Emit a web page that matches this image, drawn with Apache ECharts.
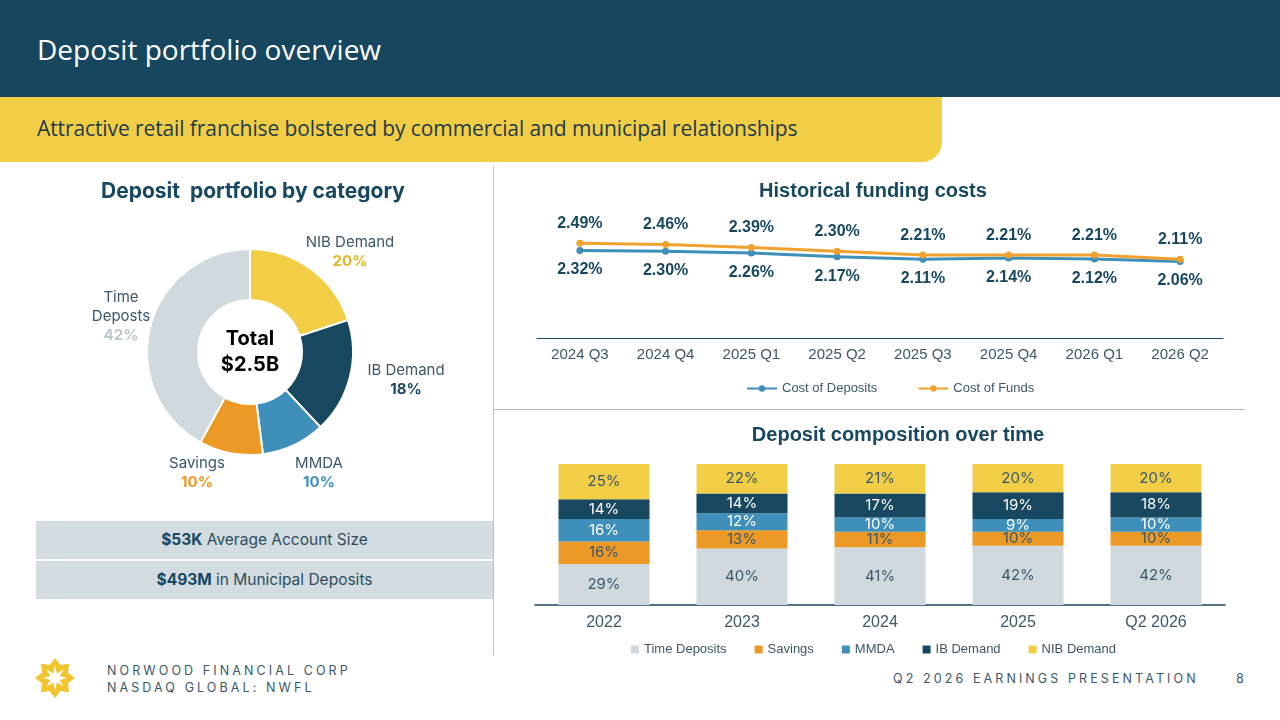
<!DOCTYPE html>
<html>
<head>
<meta charset="utf-8">
<title>Deposit portfolio overview</title>
<script src="https://cdn.jsdelivr.net/npm/echarts@6/dist/echarts.min.js"></script>
<style>
	html,body{margin:0;padding:0;background:#fff;}
	#slide{position:relative;width:1280px;height:720px;overflow:hidden;font-family:'Inter','Noto Sans',sans-serif;}
	.hdr{position:absolute;left:0;top:0;width:1280px;height:97px;background:#16475F;}
	.hdr span{position:absolute;left:37px;top:30px;color:#fff;font-family:'Open Sans',sans-serif;font-size:28px;letter-spacing:0;}
	.band{position:absolute;left:0;top:97px;width:942px;height:65px;background:#F2CE46;border-bottom-right-radius:20px;}
	.band span{position:absolute;left:37px;top:17px;color:#1F3A48;font-family:'Open Sans',sans-serif;font-size:21px;letter-spacing:-0.1px;}
	.vline{position:absolute;left:493px;top:166px;width:1px;height:489px;background:#A9C4D4;}
	.hline{position:absolute;left:493px;top:409px;width:752px;height:1px;background:#A9C4D4;}
	.stat{position:absolute;left:36px;width:457px;height:38px;line-height:38px;background:#D3DCE0;text-align:center;color:#2E4D5C;font-size:15.5px;}
	.stat b{color:#174860;}
	.foot{position:absolute;color:#3C5868;font-size:12.5px;letter-spacing:3.1px;}
	#logo{position:absolute;left:34px;top:657px;}
	#chart{position:absolute;left:0;top:0;width:1280px;height:720px;}
</style>
</head>
<body>
<div id="slide">
	<div class="hdr"><span>Deposit portfolio overview</span></div>
	<div class="band"><span>Attractive retail franchise bolstered by commercial and municipal relationships</span></div>
	<div class="vline"></div>
	<div class="hline"></div>
	<div class="stat" style="top:521px;"><b>$53K</b> Average Account Size</div>
	<div class="stat" style="top:561px;"><b>$493M</b> in Municipal Deposits</div>
	<svg id="logo" width="42" height="42" viewBox="-21 -21 42 42">
		<polygon id="starOut" fill="#F2C52E"></polygon>
		<polygon id="starIn" fill="#fff"></polygon>
	</svg>
	<div class="foot" style="left:107px;top:663px;">NORWOOD FINANCIAL CORP</div>
	<div class="foot" style="left:107px;top:680px;">NASDAQ GLOBAL: NWFL</div>
	<div class="foot" style="left:893px;top:671px;">Q2 2026 EARNINGS PRESENTATION</div>
	<div class="foot" style="left:1236px;top:671px;">8</div>
	<div id="chart"></div>
</div>
<script type="text/javascript">
	// 饼图 - 存款结构
	var pieNames = ['NIB Demand', 'IB Demand', 'MMDA', 'Savings', 'Time Deposits'];
	var pieLabels = [['NIB Demand'], ['IB Demand'], ['MMDA'], ['Savings'], ['Time', 'Deposts']];
	var pieValues = [20, 18, 10, 10, 42];

	// 折线图 - 资金成本
	var quarters = ['2024 Q3', '2024 Q4', '2025 Q1', '2025 Q2', '2025 Q3', '2025 Q4', '2026 Q1', '2026 Q2'];
	var costOfDeposits = [2.32, 2.30, 2.26, 2.17, 2.11, 2.14, 2.12, 2.06];
	var costOfFunds = [2.49, 2.46, 2.39, 2.30, 2.21, 2.21, 2.21, 2.11];

	// 堆叠柱状图 - 存款构成
	var years = ['2022', '2023', '2024', '2025', 'Q2 2026'];
	var timeDeposits = [29, 40, 41, 42, 42];
	var savings = [16, 13, 11, 10, 10];
	var mmda = [16, 12, 10, 9, 10];
	var ibDemand = [14, 14, 17, 19, 18];
	var nibDemand = [25, 22, 21, 20, 20];

	var NAVY = '#174860', BLUE = '#3F8FBB', ORANGE = '#EC9A25', YELLOW = '#F2CE47', GRAY = '#D0DADE';
	var TXT = '#3D5868';
	var NARROW = "'Liberation Sans Narrow','Liberation Sans',Arial,sans-serif";

	// logo 星形
	(function(){
		function star(r1, r2){
			var pts = [];
			for(var i = 0; i < 16; i++){
				var a = Math.PI * i / 8 - Math.PI / 2;
				var r = i % 2 == 0 ? r1 : r2;
				pts.push((r * Math.cos(a)).toFixed(2) + ',' + (r * Math.sin(a)).toFixed(2));
			}
			return pts.join(' ');
		}
		document.getElementById('starOut').setAttribute('points', star(20, 14));
		document.getElementById('starIn').setAttribute('points', star(12, 5));
	})();

	var pieColors = [YELLOW, NAVY, BLUE, ORANGE, GRAY];
	var pieValColors = ['#E2B726', NAVY, BLUE, ORANGE, '#BCC7CC'];
	var pieLabelPos = [[350, 252], [406, 380], [319, 473], [197, 473], [121, 316]];

	var pieRich = {n: {color: TXT, fontSize: 15, lineHeight: 19, fontFamily: 'Inter'}};
	pieValColors.forEach(function(c, i){
		pieRich['v' + i] = {color: c, fontSize: 15, fontWeight: 'bold', lineHeight: 19, fontFamily: 'Inter'};
	});

	var barLabel = function(color){
		return {show: true, position: 'inside', formatter: '{c}%', color: color, fontSize: 15, fontFamily: 'Inter'};
	};

	var myChart = echarts.init(document.getElementById('chart'));
	var option = {
		animation: false,
		title: [
			{text: 'Deposit  portfolio by category', left: 248, top: 176, textAlign: 'center',
				textStyle: {color: NAVY, fontSize: 21, fontWeight: 'bold', fontFamily: 'Inter'}},
			{text: 'Historical funding costs', left: 868, top: 176, textAlign: 'center',
				textStyle: {color: NAVY, fontSize: 20, fontWeight: 'bold', fontFamily: NARROW}},
			{text: 'Deposit composition over time', left: 893, top: 420, textAlign: 'center',
				textStyle: {color: NAVY, fontSize: 20, fontWeight: 'bold', fontFamily: NARROW}}
		],
		graphic: [{
			type: 'text', x: 250, y: 352, z: 100,
			style: {text: 'Total\n$2.5B', align: 'center', verticalAlign: 'middle',
				fill: '#000', font: 'bold 20px Inter', lineHeight: 26}
		}],
		legend: [{
			data: ['Cost of Deposits', 'Cost of Funds'],
			left: 741, top: 377, itemGap: 40, itemWidth: 30, itemHeight: 8,
			textStyle: {color: TXT, fontSize: 13, fontFamily: NARROW}
		}, {
			data: ['Time Deposits', 'Savings', 'MMDA', 'IB Demand', 'NIB Demand'],
			left: 626, top: 638, itemGap: 28, itemWidth: 8, itemHeight: 8, icon: 'rect',
			textStyle: {color: TXT, fontSize: 13, fontFamily: NARROW}
		}],
		grid: [
			{left: 537, width: 686, top: 190, height: 148},
			{left: 535, width: 690, top: 464, height: 141}
		],
		xAxis: [{
			gridIndex: 0, type: 'category', data: quarters,
			axisLine: {lineStyle: {color: NAVY, width: 1}},
			axisTick: {show: false},
			axisLabel: {color: TXT, fontSize: 15, margin: 9, fontFamily: NARROW}
		}, {
			gridIndex: 1, type: 'category', data: years,
			axisLine: {lineStyle: {color: NAVY, width: 1.5}},
			axisTick: {show: false},
			axisLabel: {color: TXT, fontSize: 16, margin: 10, fontFamily: NARROW}
		}],
		yAxis: [{
			gridIndex: 0, type: 'value', min: 0.25, max: 3.75, show: false, splitLine: {show: false}
		}, {
			gridIndex: 1, type: 'value', min: 0, max: 100, show: false, splitLine: {show: false}
		}],
		series: [{
			type: 'pie',
			center: [250, 352],
			radius: [52, 103],
			startAngle: 90,
			clockwise: true,
			itemStyle: {borderColor: '#fff', borderWidth: 2},
			data: pieNames.map(function(n, i){
				return {name: n, value: pieValues[i], itemStyle: {color: pieColors[i]}};
			}),
			label: {
				show: true,
				formatter: function(p){
					var lines = pieLabels[p.dataIndex].map(function(t){ return '{n|' + t + '}'; });
					lines.push('{v' + p.dataIndex + '|' + p.value + '%}');
					return lines.join('\n');
				},
				rich: pieRich,
				align: 'center'
			},
			labelLine: {show: false},
			labelLayout: function(p){
				var pos = pieLabelPos[p.dataIndex];
				return {x: pos[0], y: pos[1], align: 'center', verticalAlign: 'middle'};
			}
		}, {
			name: 'Cost of Deposits', type: 'line', xAxisIndex: 0, yAxisIndex: 0,
			data: costOfDeposits, color: BLUE,
			symbol: 'circle', symbolSize: 7,
			lineStyle: {width: 3},
			label: {show: true, position: 'bottom', distance: 8, formatter: function(p){ return p.value.toFixed(2) + '%'; },
				color: NAVY, fontSize: 16, fontWeight: 'bold', fontFamily: NARROW}
		}, {
			name: 'Cost of Funds', type: 'line', xAxisIndex: 0, yAxisIndex: 0,
			data: costOfFunds, color: '#F0A12E',
			symbol: 'circle', symbolSize: 7,
			lineStyle: {width: 3},
			label: {show: true, position: 'top', distance: 8, formatter: function(p){ return p.value.toFixed(2) + '%'; },
				color: NAVY, fontSize: 16, fontWeight: 'bold', fontFamily: NARROW}
		}, {
			name: 'Time Deposits', type: 'bar', stack: 'dep', xAxisIndex: 1, yAxisIndex: 1,
			barWidth: 91, data: timeDeposits, color: GRAY, label: barLabel(TXT)
		}, {
			name: 'Savings', type: 'bar', stack: 'dep', xAxisIndex: 1, yAxisIndex: 1,
			barWidth: 91, data: savings, color: ORANGE, label: barLabel(TXT)
		}, {
			name: 'MMDA', type: 'bar', stack: 'dep', xAxisIndex: 1, yAxisIndex: 1,
			barWidth: 91, data: mmda, color: BLUE, label: barLabel('#fff')
		}, {
			name: 'IB Demand', type: 'bar', stack: 'dep', xAxisIndex: 1, yAxisIndex: 1,
			barWidth: 91, data: ibDemand, color: NAVY, label: barLabel('#fff')
		}, {
			name: 'NIB Demand', type: 'bar', stack: 'dep', xAxisIndex: 1, yAxisIndex: 1,
			barWidth: 91, data: nibDemand, color: YELLOW, label: barLabel(TXT)
		}]
	};
	myChart.setOption(option);
</script>
</body>
</html>
